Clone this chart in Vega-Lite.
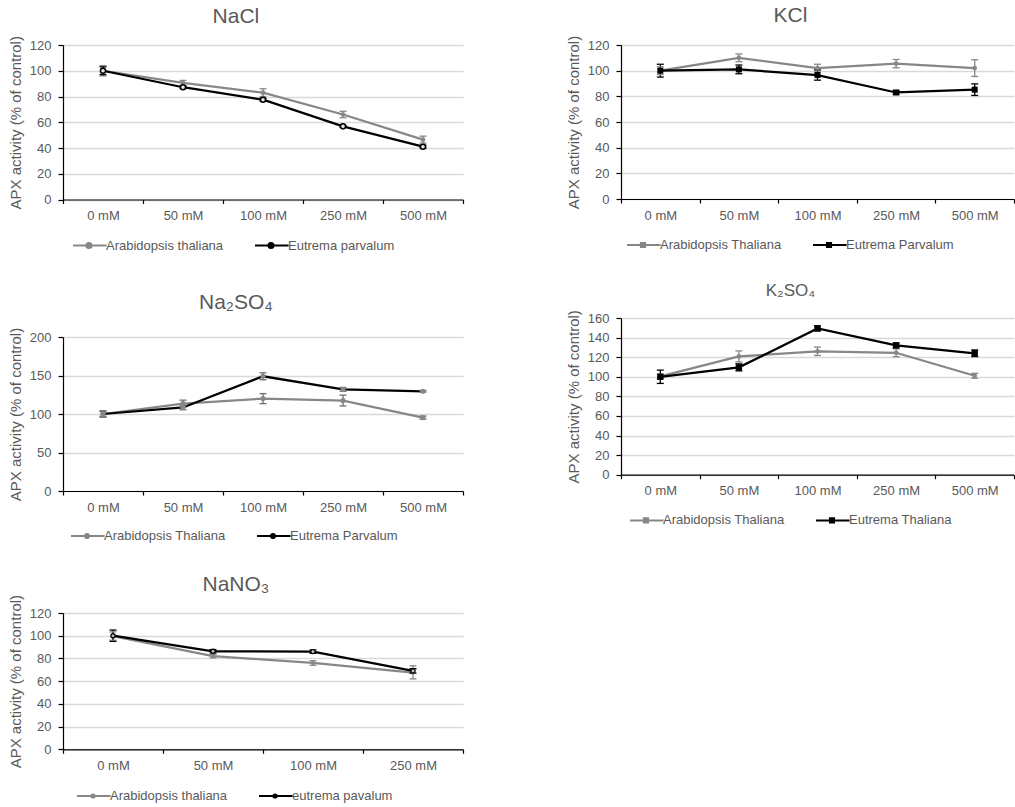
{
  "$schema": "https://vega.github.io/schema/vega-lite/v6.json",
  "padding": {"left": 8, "top": 5, "right": 0, "bottom": 0},
  "background": "white",
  "config": {
    "font": "Liberation Sans",
    "view": {"stroke": null},
    "axis": {"domainColor": "#000000", "tickColor": "#000000", "labelColor": "#595959", "labelFontSize": 13, "titleColor": "#595959", "titleFontSize": 15, "titleFontWeight": "normal", "gridColor": "#d9d9d9", "gridWidth": 1.3, "domainWidth": 1.2, "tickWidth": 1.2},
    "axisX": {"grid": false, "tickBand": "extent", "tickSize": 4, "labelPadding": 6, "labelAngle": 0},
    "axisY": {"grid": true, "tickSize": 5, "labelPadding": 7, "titlePadding": 6},
    "title": {"fontSize": 21, "fontWeight": "normal", "color": "#595959", "frame": "bounds", "offset": 9},
    "legend": {"direction": "horizontal", "labelFontSize": 13, "labelColor": "#595959", "symbolSize": 1024, "symbolStrokeWidth": 2, "columnPadding": 27, "labelOffset": 0}
  },
  "resolve": {"scale": {"color": "independent"}, "legend": {"color": "independent"}},
  "concat": [
    {
      "width": 400, "height": 154.5,
      "title": {"text": "NaCl", "offset": 9},
      "data": {"values": [
        {"conc": "0 mM", "species": "Arabidopsis thaliana", "apx": 100, "lo": 96, "hi": 104},
        {"conc": "50 mM", "species": "Arabidopsis thaliana", "apx": 90.5, "lo": 88.5, "hi": 92.5},
        {"conc": "100 mM", "species": "Arabidopsis thaliana", "apx": 83, "lo": 80, "hi": 86},
        {"conc": "250 mM", "species": "Arabidopsis thaliana", "apx": 66, "lo": 63.5, "hi": 68.5},
        {"conc": "500 mM", "species": "Arabidopsis thaliana", "apx": 46.5, "lo": 43.8, "hi": 49.2},
        {"conc": "0 mM", "species": "Eutrema parvalum", "apx": 100, "lo": 97, "hi": 103},
        {"conc": "50 mM", "species": "Eutrema parvalum", "apx": 87.2, "lo": 86.2, "hi": 88.2},
        {"conc": "100 mM", "species": "Eutrema parvalum", "apx": 77.5, "lo": 76.5, "hi": 78.5},
        {"conc": "250 mM", "species": "Eutrema parvalum", "apx": 56.8, "lo": 56, "hi": 57.6},
        {"conc": "500 mM", "species": "Eutrema parvalum", "apx": 41, "lo": 40, "hi": 42}
      ]},
      "encoding": {"x": {"field": "conc", "type": "ordinal", "sort": ["0 mM", "50 mM", "100 mM", "250 mM", "500 mM"], "scale": {"paddingInner": 0, "paddingOuter": 0}, "title": null}},
      "layer": [
        {"mark": {"type": "line", "strokeWidth": 2.25}, "encoding": {
          "y": {"field": "apx", "type": "quantitative", "scale": {"domain": [0, 120]}, "axis": {"values": [0, 20, 40, 60, 80, 100, 120]}, "title": "APX activity (% of control)"},
          "color": {"field": "species", "type": "nominal", "scale": {"domain": ["Arabidopsis thaliana", "Eutrema parvalum"], "range": ["#878787", "#000000"]},
            "legend": {"orient": "none", "legendX": 9, "legendY": 183.5, "title": null,
              "symbolType": "M-1,0H1.1M-0.16,0A0.16,0.16 0 1,1 0.16,0A0.16,0.16 0 1,1 -0.16,0Z",
              "encode": {"symbols": {"update": {"fill": {"signal": "datum.value === 'Arabidopsis thaliana' ? '#878787' : '#ffffff'"}, "opacity": {"value": 1}}}}}}}},
        {"mark": {"type": "rule", "strokeWidth": 1.3}, "encoding": {"y": {"field": "lo", "type": "quantitative", "scale": {"domain": [0, 120]}, "axis": {"values": [0, 20, 40, 60, 80, 100, 120]}, "title": "APX activity (% of control)"}, "y2": {"field": "hi"}, "color": {"field": "species", "type": "nominal"}}},
        {"mark": {"type": "tick", "size": 7, "thickness": 1.3, "opacity": 1}, "encoding": {"y": {"field": "lo", "type": "quantitative", "scale": {"domain": [0, 120]}, "axis": {"values": [0, 20, 40, 60, 80, 100, 120]}, "title": "APX activity (% of control)"}, "color": {"field": "species", "type": "nominal"}}},
        {"mark": {"type": "tick", "size": 7, "thickness": 1.3, "opacity": 1}, "encoding": {"y": {"field": "hi", "type": "quantitative", "scale": {"domain": [0, 120]}, "axis": {"values": [0, 20, 40, 60, 80, 100, 120]}, "title": "APX activity (% of control)"}, "color": {"field": "species", "type": "nominal"}}},
        {"transform": [{"filter": "datum.species === 'Arabidopsis thaliana'"}], "mark": {"type": "point", "shape": "circle", "filled": true, "size": 22, "color": "#878787", "opacity": 1}, "encoding": {"y": {"field": "apx", "type": "quantitative", "scale": {"domain": [0, 120]}, "axis": {"values": [0, 20, 40, 60, 80, 100, 120]}, "title": "APX activity (% of control)"}}},
        {"transform": [{"filter": "datum.species === 'Eutrema parvalum'"}], "mark": {"type": "point", "shape": "circle", "filled": true, "fill": "#e8e8e8", "stroke": "#000000", "strokeWidth": 1.5, "size": 26, "opacity": 1}, "encoding": {"y": {"field": "apx", "type": "quantitative", "scale": {"domain": [0, 120]}, "axis": {"values": [0, 20, 40, 60, 80, 100, 120]}, "title": "APX activity (% of control)"}}}
      ]
    },
    {
      "width": 393, "height": 154,
      "title": {"text": "KCl", "offset": 9},
      "data": {"values": [
        {"conc": "0 mM", "species": "Arabidopsis Thaliana", "apx": 100, "lo": 97, "hi": 103},
        {"conc": "50 mM", "species": "Arabidopsis Thaliana", "apx": 110, "lo": 107, "hi": 113},
        {"conc": "100 mM", "species": "Arabidopsis Thaliana", "apx": 102, "lo": 99, "hi": 105},
        {"conc": "250 mM", "species": "Arabidopsis Thaliana", "apx": 105.5, "lo": 102.3, "hi": 108.7},
        {"conc": "500 mM", "species": "Arabidopsis Thaliana", "apx": 102, "lo": 95.5, "hi": 108.5},
        {"conc": "0 mM", "species": "Eutrema Parvalum", "apx": 100, "lo": 95, "hi": 105},
        {"conc": "50 mM", "species": "Eutrema Parvalum", "apx": 101, "lo": 97.6, "hi": 104.4},
        {"conc": "100 mM", "species": "Eutrema Parvalum", "apx": 96.6, "lo": 92.6, "hi": 100.6},
        {"conc": "250 mM", "species": "Eutrema Parvalum", "apx": 83, "lo": 81.5, "hi": 84.5},
        {"conc": "500 mM", "species": "Eutrema Parvalum", "apx": 85.2, "lo": 80.7, "hi": 89.7}
      ]},
      "encoding": {"x": {"field": "conc", "type": "ordinal", "sort": ["0 mM", "50 mM", "100 mM", "250 mM", "500 mM"], "scale": {"paddingInner": 0, "paddingOuter": 0}, "title": null}},
      "layer": [
        {"mark": {"type": "line", "strokeWidth": 2.25}, "encoding": {
          "y": {"field": "apx", "type": "quantitative", "scale": {"domain": [0, 120]}, "axis": {"values": [0, 20, 40, 60, 80, 100, 120]}, "title": "APX activity (% of control)"},
          "color": {"field": "species", "type": "nominal", "scale": {"domain": ["Arabidopsis Thaliana", "Eutrema Parvalum"], "range": ["#878787", "#000000"]},
            "legend": {"orient": "none", "legendX": 5, "legendY": 183, "title": null,
              "symbolType": "M-1,0H1.1M-0.13,-0.13H0.13V0.13H-0.13Z",
              "encode": {"symbols": {"update": {"fill": {"signal": "datum.value === 'Arabidopsis Thaliana' ? '#878787' : '#000000'"}, "opacity": {"value": 1}}}}}}}},
        {"mark": {"type": "rule", "strokeWidth": 1.3}, "encoding": {"y": {"field": "lo", "type": "quantitative", "scale": {"domain": [0, 120]}, "axis": {"values": [0, 20, 40, 60, 80, 100, 120]}, "title": "APX activity (% of control)"}, "y2": {"field": "hi"}, "color": {"field": "species", "type": "nominal"}}},
        {"mark": {"type": "tick", "size": 7, "thickness": 1.3, "opacity": 1}, "encoding": {"y": {"field": "lo", "type": "quantitative", "scale": {"domain": [0, 120]}, "axis": {"values": [0, 20, 40, 60, 80, 100, 120]}, "title": "APX activity (% of control)"}, "color": {"field": "species", "type": "nominal"}}},
        {"mark": {"type": "tick", "size": 7, "thickness": 1.3, "opacity": 1}, "encoding": {"y": {"field": "hi", "type": "quantitative", "scale": {"domain": [0, 120]}, "axis": {"values": [0, 20, 40, 60, 80, 100, 120]}, "title": "APX activity (% of control)"}, "color": {"field": "species", "type": "nominal"}}},
        {"transform": [{"filter": "datum.species === 'Arabidopsis Thaliana'"}], "mark": {"type": "point", "shape": "circle", "filled": true, "size": 22, "color": "#878787", "opacity": 1}, "encoding": {"y": {"field": "apx", "type": "quantitative", "scale": {"domain": [0, 120]}, "axis": {"values": [0, 20, 40, 60, 80, 100, 120]}, "title": "APX activity (% of control)"}}},
        {"transform": [{"filter": "datum.species === 'Eutrema Parvalum'"}], "mark": {"type": "point", "shape": "square", "filled": true, "color": "#000000", "size": 36, "opacity": 1}, "encoding": {"y": {"field": "apx", "type": "quantitative", "scale": {"domain": [0, 120]}, "axis": {"values": [0, 20, 40, 60, 80, 100, 120]}, "title": "APX activity (% of control)"}}}
      ]
    },
    {
      "width": 400, "height": 154,
      "title": {"text": ["", "Na₂SO₄"], "lineHeight": 14.7, "offset": 14},
      "data": {"values": [
        {"conc": "0 mM", "species": "Arabidopsis Thaliana", "apx": 100, "lo": 95.7, "hi": 104.3},
        {"conc": "50 mM", "species": "Arabidopsis Thaliana", "apx": 113.5, "lo": 109, "hi": 118},
        {"conc": "100 mM", "species": "Arabidopsis Thaliana", "apx": 120, "lo": 113.5, "hi": 126.5},
        {"conc": "250 mM", "species": "Arabidopsis Thaliana", "apx": 117.5, "lo": 110.5, "hi": 124.5},
        {"conc": "500 mM", "species": "Arabidopsis Thaliana", "apx": 95.3, "lo": 93.3, "hi": 97.3},
        {"conc": "0 mM", "species": "Eutrema Parvalum", "apx": 100, "lo": 97, "hi": 103},
        {"conc": "50 mM", "species": "Eutrema Parvalum", "apx": 108.5, "lo": 105.5, "hi": 111.5},
        {"conc": "100 mM", "species": "Eutrema Parvalum", "apx": 149, "lo": 144.5, "hi": 153.5},
        {"conc": "250 mM", "species": "Eutrema Parvalum", "apx": 132, "lo": 129.5, "hi": 134.5},
        {"conc": "500 mM", "species": "Eutrema Parvalum", "apx": 129.5, "lo": 128.5, "hi": 130.5}
      ]},
      "encoding": {"x": {"field": "conc", "type": "ordinal", "sort": ["0 mM", "50 mM", "100 mM", "250 mM", "500 mM"], "scale": {"paddingInner": 0, "paddingOuter": 0}, "title": null}},
      "layer": [
        {"mark": {"type": "line", "strokeWidth": 2.25}, "encoding": {
          "y": {"field": "apx", "type": "quantitative", "scale": {"domain": [0, 200]}, "axis": {"values": [0, 50, 100, 150, 200]}, "title": "APX activity (% of control)"},
          "color": {"field": "species", "type": "nominal", "scale": {"domain": ["Arabidopsis Thaliana", "Eutrema Parvalum"], "range": ["#878787", "#000000"]},
            "legend": {"orient": "none", "legendX": 7, "legendY": 182, "title": null,
              "symbolType": "M-1,0H1.1M-0.13,0A0.13,0.13 0 1,1 0.13,0A0.13,0.13 0 1,1 -0.13,0Z",
              "encode": {"symbols": {"update": {"fill": {"value": "#878787"}, "opacity": {"value": 1}}}}}}}},
        {"mark": {"type": "rule", "strokeWidth": 1.3, "color": "#707070"}, "encoding": {"y": {"field": "lo", "type": "quantitative", "scale": {"domain": [0, 200]}, "axis": {"values": [0, 50, 100, 150, 200]}, "title": "APX activity (% of control)"}, "y2": {"field": "hi"}}},
        {"mark": {"type": "tick", "size": 7, "thickness": 1.3, "opacity": 1, "color": "#707070"}, "encoding": {"y": {"field": "lo", "type": "quantitative", "scale": {"domain": [0, 200]}, "axis": {"values": [0, 50, 100, 150, 200]}, "title": "APX activity (% of control)"}}},
        {"mark": {"type": "tick", "size": 7, "thickness": 1.3, "opacity": 1, "color": "#707070"}, "encoding": {"y": {"field": "hi", "type": "quantitative", "scale": {"domain": [0, 200]}, "axis": {"values": [0, 50, 100, 150, 200]}, "title": "APX activity (% of control)"}}},
        {"mark": {"type": "point", "shape": "circle", "filled": true, "size": 26, "color": "#878787", "opacity": 1}, "encoding": {"y": {"field": "apx", "type": "quantitative", "scale": {"domain": [0, 200]}, "axis": {"values": [0, 50, 100, 150, 200]}, "title": "APX activity (% of control)"}}}
      ]
    },
    {
      "width": 393, "height": 156.7,
      "title": {"text": ["", "K₂SO₄"], "lineHeight": 4.3, "fontSize": 17, "offset": 10},
      "data": {"values": [
        {"conc": "0 mM", "species": "Arabidopsis Thaliana", "apx": 100.4, "lo": 98, "hi": 102.8},
        {"conc": "50 mM", "species": "Arabidopsis Thaliana", "apx": 120.8, "lo": 115.2, "hi": 126.4},
        {"conc": "100 mM", "species": "Arabidopsis Thaliana", "apx": 126, "lo": 121.7, "hi": 130.3},
        {"conc": "250 mM", "species": "Arabidopsis Thaliana", "apx": 124.5, "lo": 120.5, "hi": 128.5},
        {"conc": "500 mM", "species": "Arabidopsis Thaliana", "apx": 101, "lo": 98.5, "hi": 103.5},
        {"conc": "0 mM", "species": "Eutrema Thaliana", "apx": 100, "lo": 93.2, "hi": 106.8},
        {"conc": "50 mM", "species": "Eutrema Thaliana", "apx": 109.6, "lo": 106, "hi": 113.2},
        {"conc": "100 mM", "species": "Eutrema Thaliana", "apx": 149.4, "lo": 146.9, "hi": 151.9},
        {"conc": "250 mM", "species": "Eutrema Thaliana", "apx": 132, "lo": 129.5, "hi": 134.5},
        {"conc": "500 mM", "species": "Eutrema Thaliana", "apx": 124, "lo": 120.6, "hi": 127.4}
      ]},
      "encoding": {"x": {"field": "conc", "type": "ordinal", "sort": ["0 mM", "50 mM", "100 mM", "250 mM", "500 mM"], "scale": {"paddingInner": 0, "paddingOuter": 0}, "title": null}},
      "layer": [
        {"mark": {"type": "line", "strokeWidth": 2.25}, "encoding": {
          "y": {"field": "apx", "type": "quantitative", "scale": {"domain": [0, 160]}, "axis": {"values": [0, 20, 40, 60, 80, 100, 120, 140, 160]}, "title": "APX activity (% of control)"},
          "color": {"field": "species", "type": "nominal", "scale": {"domain": ["Arabidopsis Thaliana", "Eutrema Thaliana"], "range": ["#878787", "#000000"]},
            "legend": {"orient": "none", "legendX": 8, "legendY": 185.4, "title": null,
              "symbolType": "M-1,0H1.1M-0.13,-0.13H0.13V0.13H-0.13Z",
              "encode": {"symbols": {"update": {"fill": {"signal": "datum.value === 'Arabidopsis Thaliana' ? '#878787' : '#000000'"}, "opacity": {"value": 1}}}}}}}},
        {"mark": {"type": "rule", "strokeWidth": 1.3}, "encoding": {"y": {"field": "lo", "type": "quantitative", "scale": {"domain": [0, 160]}, "axis": {"values": [0, 20, 40, 60, 80, 100, 120, 140, 160]}, "title": "APX activity (% of control)"}, "y2": {"field": "hi"}, "color": {"field": "species", "type": "nominal"}}},
        {"mark": {"type": "tick", "size": 7, "thickness": 1.3, "opacity": 1}, "encoding": {"y": {"field": "lo", "type": "quantitative", "scale": {"domain": [0, 160]}, "axis": {"values": [0, 20, 40, 60, 80, 100, 120, 140, 160]}, "title": "APX activity (% of control)"}, "color": {"field": "species", "type": "nominal"}}},
        {"mark": {"type": "tick", "size": 7, "thickness": 1.3, "opacity": 1}, "encoding": {"y": {"field": "hi", "type": "quantitative", "scale": {"domain": [0, 160]}, "axis": {"values": [0, 20, 40, 60, 80, 100, 120, 140, 160]}, "title": "APX activity (% of control)"}, "color": {"field": "species", "type": "nominal"}}},
        {"transform": [{"filter": "datum.species === 'Arabidopsis Thaliana'"}], "mark": {"type": "point", "shape": "circle", "filled": true, "size": 22, "color": "#878787", "opacity": 1}, "encoding": {"y": {"field": "apx", "type": "quantitative", "scale": {"domain": [0, 160]}, "axis": {"values": [0, 20, 40, 60, 80, 100, 120, 140, 160]}, "title": "APX activity (% of control)"}}},
        {"transform": [{"filter": "datum.species === 'Eutrema Thaliana'"}], "mark": {"type": "point", "shape": "square", "filled": true, "color": "#000000", "size": 40, "opacity": 1}, "encoding": {"y": {"field": "apx", "type": "quantitative", "scale": {"domain": [0, 160]}, "axis": {"values": [0, 20, 40, 60, 80, 100, 120, 140, 160]}, "title": "APX activity (% of control)"}}}
      ]
    },
    {
      "width": 400, "height": 136.3,
      "title": {"text": ["", "NaNO₃"], "lineHeight": 2.5, "offset": -1},
      "data": {"values": [
        {"conc": "0 mM", "species": "Arabidopsis thaliana", "apx": 99.7, "lo": 96, "hi": 103.4},
        {"conc": "50 mM", "species": "Arabidopsis thaliana", "apx": 82, "lo": 80.5, "hi": 83.5},
        {"conc": "100 mM", "species": "Arabidopsis thaliana", "apx": 76, "lo": 74, "hi": 78},
        {"conc": "250 mM", "species": "Arabidopsis thaliana", "apx": 67.5, "lo": 62, "hi": 73.5},
        {"conc": "0 mM", "species": "eutrema pavalum", "apx": 100, "lo": 95, "hi": 105},
        {"conc": "50 mM", "species": "eutrema pavalum", "apx": 86.3, "lo": 84.8, "hi": 87.8},
        {"conc": "100 mM", "species": "eutrema pavalum", "apx": 86, "lo": 84.5, "hi": 87.5},
        {"conc": "250 mM", "species": "eutrema pavalum", "apx": 69, "lo": 67, "hi": 71}
      ]},
      "encoding": {"x": {"field": "conc", "type": "ordinal", "sort": ["0 mM", "50 mM", "100 mM", "250 mM"], "scale": {"paddingInner": 0, "paddingOuter": 0}, "title": null}},
      "layer": [
        {"mark": {"type": "line", "strokeWidth": 2.25}, "encoding": {
          "y": {"field": "apx", "type": "quantitative", "scale": {"domain": [0, 120]}, "axis": {"values": [0, 20, 40, 60, 80, 100, 120]}, "title": "APX activity (% of control)"},
          "color": {"field": "species", "type": "nominal", "scale": {"domain": ["Arabidopsis thaliana", "eutrema pavalum"], "range": ["#878787", "#000000"]},
            "legend": {"orient": "none", "legendX": 13, "legendY": 166, "title": null,
              "symbolType": "M-1,0H1.1M-0.1,0A0.1,0.1 0 1,1 0.1,0A0.1,0.1 0 1,1 -0.1,0Z",
              "encode": {"symbols": {"update": {"fill": {"value": "#878787"}, "opacity": {"value": 1}}}}}}}},
        {"mark": {"type": "rule", "strokeWidth": 1.3}, "encoding": {"y": {"field": "lo", "type": "quantitative", "scale": {"domain": [0, 120]}, "axis": {"values": [0, 20, 40, 60, 80, 100, 120]}, "title": "APX activity (% of control)"}, "y2": {"field": "hi"}, "color": {"field": "species", "type": "nominal"}}},
        {"mark": {"type": "tick", "size": 7, "thickness": 1.3, "opacity": 1}, "encoding": {"y": {"field": "lo", "type": "quantitative", "scale": {"domain": [0, 120]}, "axis": {"values": [0, 20, 40, 60, 80, 100, 120]}, "title": "APX activity (% of control)"}, "color": {"field": "species", "type": "nominal"}}},
        {"mark": {"type": "tick", "size": 7, "thickness": 1.3, "opacity": 1}, "encoding": {"y": {"field": "hi", "type": "quantitative", "scale": {"domain": [0, 120]}, "axis": {"values": [0, 20, 40, 60, 80, 100, 120]}, "title": "APX activity (% of control)"}, "color": {"field": "species", "type": "nominal"}}},
        {"transform": [{"filter": "datum.species === 'Arabidopsis thaliana'"}], "mark": {"type": "point", "shape": "circle", "filled": true, "size": 16, "color": "#878787", "opacity": 1}, "encoding": {"y": {"field": "apx", "type": "quantitative", "scale": {"domain": [0, 120]}, "axis": {"values": [0, 20, 40, 60, 80, 100, 120]}, "title": "APX activity (% of control)"}}},
        {"transform": [{"filter": "datum.species === 'eutrema pavalum'"}], "mark": {"type": "point", "shape": "circle", "filled": true, "fill": "#bdbdbd", "stroke": "#000000", "strokeWidth": 1.2, "size": 18, "opacity": 1}, "encoding": {"y": {"field": "apx", "type": "quantitative", "scale": {"domain": [0, 120]}, "axis": {"values": [0, 20, 40, 60, 80, 100, 120]}, "title": "APX activity (% of control)"}}}
      ]
    }
  ],
  "columns": 2,
  "align": "none",
  "spacing": {"row": 24, "column": 102}
}
